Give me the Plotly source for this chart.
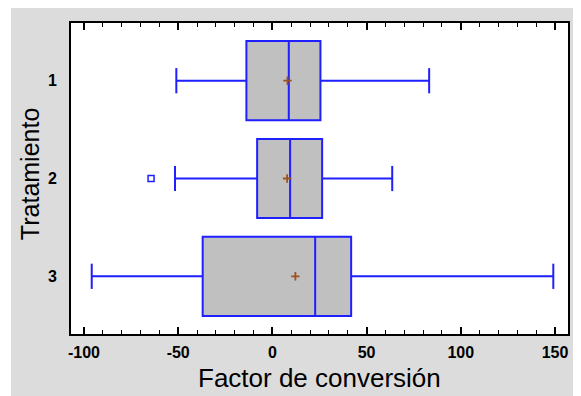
import plotly.graph_objects as go

treatments = [1, 2, 3]
tick_labels = ["1", "2", "3"]
x_ticks = [-100, -50, 0, 50, 100, 150]
x_tick_labels = ["-100", "-50", "0", "50", "100", "150"]
lower_whisker = [-51.0, -51.7, -95.9]
q1 = [-13.8, -8.1, -37.0]
median = [8.7, 9.4, 22.7]
q3 = [25.5, 26.4, 41.8]
upper_whisker = [83.2, 63.6, 149.1]
means = [8.0, 7.8, 12.2]
outlier_x = [-64.4]
outlier_y = [2]

BLUE = "#1f1fff"
BROWN = "#a0521e"
FONT = "Liberation Sans, Arial, sans-serif"
fig = go.Figure()
fig.add_trace(go.Box(
    y=treatments, q1=q1, median=median, q3=q3,
    lowerfence=lower_whisker, upperfence=upper_whisker,
    orientation="h", width=0.81, boxpoints=False,
    fillcolor="#c0c0c0", line=dict(color=BLUE, width=2),
    whiskerwidth=0, showlegend=False, hoverinfo="skip",
))
# whisker caps
fig.add_trace(go.Scatter(
    x=lower_whisker + upper_whisker, y=treatments + treatments,
    mode="markers", marker=dict(symbol="line-ns-open", size=18, color=BLUE,
                                line=dict(color=BLUE, width=2)),
    showlegend=False, hoverinfo="skip"))
# outliers
fig.add_trace(go.Scatter(
    x=outlier_x, y=outlier_y, mode="markers",
    marker=dict(symbol="square-open", size=6, color=BLUE,
                line=dict(color=BLUE, width=1.5)),
    showlegend=False, hoverinfo="skip"))
# means
fig.add_trace(go.Scatter(
    x=means, y=treatments, mode="markers",
    marker=dict(symbol="cross-thin-open", size=6, color=BROWN,
                line=dict(color=BROWN, width=1.8)),
    showlegend=False, hoverinfo="skip"))

# page has an 8px body margin: figure coords = page coords - 8
OFF = 8
W, H = 581 - OFF, 396 - OFF
ml, mt = 71 - OFF, 22.7 - OFF
mr = W - (567.7 - OFF)
mb = H - (334 - OFF)
pw = W - ml - mr
ph = H - mt - mb

def px_x(page_x):
    return (page_x - OFF - ml) / pw

def px_y(page_y):
    return (H - mb - (page_y - OFF)) / ph

fig.add_shape(type="rect", xref="paper", yref="paper",
              x0=px_x(11), x1=px_x(600), y0=px_y(420), y1=px_y(5),
              fillcolor="#dcdcdc", line=dict(width=0), layer="below")
fig.add_shape(type="rect", xref="paper", yref="paper",
              x0=0, x1=1, y0=0, y1=1,
              fillcolor="white", line=dict(width=0), layer="below")

fig.add_annotation(text="Factor de conversión", xref="paper", yref="paper",
                   x=px_x(319), y=px_y(378), xanchor="center", yanchor="middle",
                   showarrow=False, font=dict(size=26, family=FONT, color="black"))
fig.add_annotation(text="Tratamiento", xref="paper", yref="paper",
                   x=px_x(30), y=px_y(174), xanchor="center", yanchor="middle",
                   textangle=-90, showarrow=False,
                   font=dict(size=25, family=FONT, color="black"))

fig.update_layout(
    width=W, height=H,
    margin=dict(l=ml, r=mr, t=mt, b=mb, pad=0, autoexpand=False),
    paper_bgcolor="white", plot_bgcolor="white",
    font=dict(family=FONT, color="black"),
    xaxis=dict(range=[-106.9, 156.9], tickvals=x_ticks, ticktext=x_tick_labels,
               automargin=False,
               ticks="inside", ticklen=7, tickwidth=1.5, tickcolor="black",
               minor=dict(dtick=10, tick0=0, ticks="inside", ticklen=4, tickcolor="black", tickwidth=1),
               showgrid=False, zeroline=False,
               showline=True, linecolor="black", linewidth=2, mirror="ticks",
               ticklabelstandoff=3,
               tickfont=dict(size=16, family=FONT, weight="bold")),
    yaxis=dict(range=[3.59, 0.41], tickvals=treatments, ticktext=tick_labels,
               automargin=False,
               ticks="", showgrid=False, zeroline=False,
               showline=True, linecolor="black", linewidth=2, mirror=True,
               ticklabelstandoff=9,
               tickfont=dict(size=16, family=FONT, weight="bold")),
)
fig.write_html("out.html")
